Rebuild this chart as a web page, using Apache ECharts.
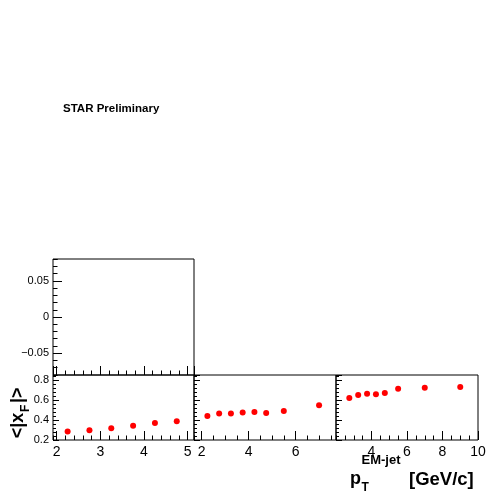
<!DOCTYPE html>
<html><head><meta charset="utf-8">
<script src="https://cdn.jsdelivr.net/npm/echarts@6/dist/echarts.min.js"></script>
<style>html,body{margin:0;padding:0;background:#fff}#c{width:503px;height:496px}</style>
</head><body><div id="c"></div>
<script>
// ---- data ----
const xLeft  = [2.25, 2.75, 3.25, 3.75, 4.25, 4.75];
const yLeft  = [0.285, 0.298, 0.317, 0.343, 0.370, 0.387];
const xMid   = [2.25, 2.75, 3.25, 3.75, 4.25, 4.75, 5.5, 7.0];
const yMid   = [0.440, 0.465, 0.465, 0.475, 0.480, 0.470, 0.490, 0.548];
const xRight = [2.75, 3.25, 3.75, 4.25, 4.75, 5.5, 7.0, 9.0];
const yRight = [0.619, 0.649, 0.663, 0.657, 0.670, 0.713, 0.723, 0.730];
const titleText = 'STAR Preliminary';
const xTitleMain = 'p', xTitleSup = 'EM-jet', xTitleSub = 'T', xTitleUnit = '[GeV/c]';
const yTitleA = '<|x', yTitleSub = 'F', yTitleB = '|>';

const FONT = '"Liberation Sans", Arial, Helvetica, sans-serif';
const chart = echarts.init(document.getElementById('c'), null, {renderer: 'canvas'});

const grids = [
  {left: 53,  top: 259, width: 141, height: 116},
  {left: 53,  top: 375, width: 141, height: 65},
  {left: 194, top: 375, width: 142, height: 65},
  {left: 336, top: 375, width: 142, height: 65}
].map(g => Object.assign(g, {show: true, borderColor: '#000', borderWidth: 1, backgroundColor: 'transparent', containLabel: false}));

const xRanges = [[1.915, 5.145], [1.915, 5.145], [1.68, 7.72], [2, 10]];
const xMajor  = [1, 1, 2, 2];
const xMinor  = [0.2, 0.2, 0.5, 0.5];
const xShowMax = [false, false, false, true];
const yRanges = [[-0.0803, 0.0803], [0.2, 0.85], [0.2, 0.85], [0.2, 0.85]];
const yMajor  = [0.05, 0.2, 0.2, 0.2];
const yMinor  = [0.01, 0.04, 0.04, 0.04];

function axis(type, gi, range, step, tickLen, label) {
  return {
    type: 'value', gridIndex: gi, min: range[0], max: range[1],
    minInterval: step, maxInterval: step, splitNumber: Math.round((range[1]-range[0])/step),
    position: type === 'x' ? 'bottom' : 'left',
    axisLine: {show: false, onZero: false},
    splitLine: {show: false},
    axisTick: {show: true, inside: true, length: tickLen, lineStyle: {color: '#000', width: 1}},
    axisLabel: label || {show: false},
    scale: false
  };
}
const xLab = (showMax) => ({show: true, fontSize: 14, color: '#000', fontFamily: FONT, margin: 5,
  showMinLabel: false, showMaxLabel: showMax, formatter: v => String(Math.round(v*100)/100)});

const xAxes = [], yAxes = [];
for (let i = 0; i < 4; i++) {
  xAxes.push(axis('x', i, xRanges[i], xMajor[i], 9, i === 0 ? null : xLab(xShowMax[i])));
}
for (let i = 0; i < 4; i++) xAxes.push(axis('x', i, xRanges[i], xMinor[i], 4.5, null));

for (let i = 0; i < 4; i++) {
  let lab = null;
  if (i === 0) lab = {show: true, fontSize: 11, color: '#000', fontFamily: FONT, margin: 4,
    showMinLabel: false, showMaxLabel: false,
    formatter: v => Math.abs(v) < 1e-9 ? '0' : (v < 0 ? '\u2212' : '') + Math.abs(v).toFixed(2)};
  if (i === 1) lab = {show: true, fontSize: 11, color: '#000', fontFamily: FONT, margin: 4,
    showMinLabel: true, showMaxLabel: false, formatter: v => v.toFixed(1)};
  yAxes.push(axis('y', i, yRanges[i], yMajor[i], i === 0 ? 9 : 6, lab));
}
for (let i = 0; i < 4; i++) yAxes.push(axis('y', i, yRanges[i], yMinor[i], i === 0 ? 4.5 : 3, null));

function pts(xs, ys) { return xs.map((x, k) => [x, ys[k]]); }
const mk = (xi, xs, ys) => ({type: 'scatter', xAxisIndex: xi, yAxisIndex: xi, data: pts(xs, ys),
  symbol: 'circle', symbolSize: 6, itemStyle: {color: '#ff0000', opacity: 1}, silent: true, animation: false});

const bold = (size) => ({fontFamily: FONT, fontWeight: 'bold', fontSize: size, fill: '#000',
  align: 'left', verticalAlign: 'middle', textAlign: 'left', textVerticalAlign: 'middle'});

chart.setOption({
  animation: false,
  textStyle: {fontFamily: FONT},
  grid: grids,
  xAxis: xAxes,
  yAxis: yAxes,
  series: [mk(1, xLeft, yLeft), mk(2, xMid, yMid), mk(3, xRight, yRight)],
  graphic: [
    {type: 'text', x: 63, y: 109, style: Object.assign({text: titleText}, bold(11.5))},
    {type: 'text', x: 350, y: 479.5, style: Object.assign({text: xTitleMain}, bold(18))},
    {type: 'text', x: 361.5, y: 460.5, style: Object.assign({text: xTitleSup}, bold(13))},
    {type: 'text', x: 361.5, y: 488, style: Object.assign({text: xTitleSub}, bold(12))},
    {type: 'text', x: 409, y: 479.5, style: Object.assign({text: xTitleUnit}, bold(18.5))},
    {type: 'group', x: 18, y: 412.5, rotation: Math.PI / 2, children: [
      {type: 'text', x: -25.8, y: 0, style: Object.assign({text: yTitleA}, bold(18))},
      {type: 'text', x: 0.5, y: 8, style: Object.assign({text: yTitleSub}, bold(12))},
      {type: 'text', x: 9.5, y: 0, style: Object.assign({text: yTitleB}, bold(18))}
    ]}
  ]
});
</script></body></html>
